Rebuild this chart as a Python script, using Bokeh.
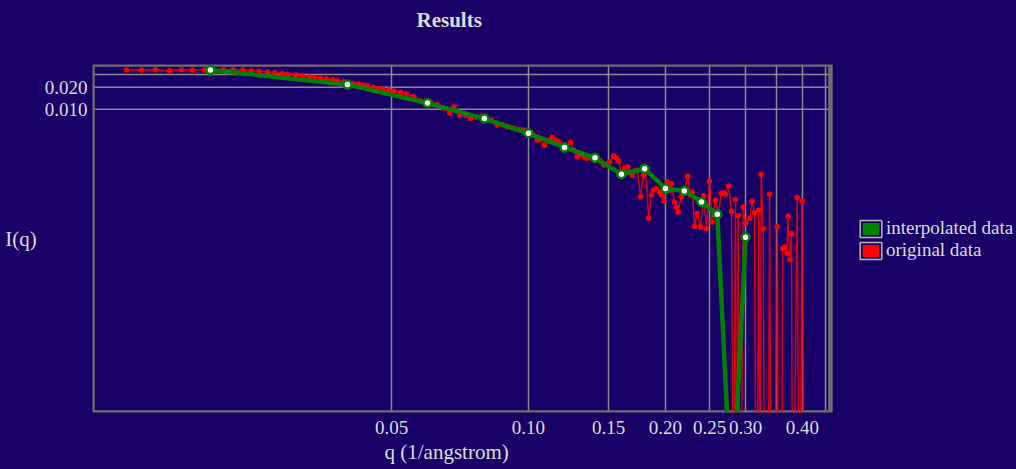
from bokeh.plotting import figure
from bokeh.models import FixedTicker, Legend, LegendItem, Range1d, Title
from bokeh.embed import file_html
from bokeh.resources import INLINE

# ---------------- data ----------------
q_orig = [0.01308, 0.01411, 0.01514, 0.01626, 0.01728, 0.01826, 0.01941, 0.02021,
          0.02136, 0.02244, 0.02356, 0.02458, 0.02559, 0.0267, 0.0277, 0.02872,
          0.02953, 0.03087, 0.03192, 0.03302, 0.03391, 0.03491, 0.03597, 0.03715,
          0.03799, 0.03927, 0.0402, 0.04124, 0.04236, 0.04339, 0.0442, 0.04557,
          0.0468, 0.04794, 0.04932, 0.05058, 0.05233, 0.05395, 0.05597, 0.0579,
          0.05968, 0.06121, 0.0630, 0.06513, 0.06714, 0.06851, 0.07063, 0.0727,
          0.07456, 0.07686, 0.07883, 0.08085, 0.08292, 0.08535, 0.08768, 0.08978,
          0.09176, 0.09363, 0.09555, 0.09765, 0.0995, 0.1021, 0.1045, 0.1063,
          0.1084, 0.1107, 0.1127, 0.1147, 0.1166, 0.1188, 0.1212, 0.1237,
          0.1256, 0.1279, 0.1308, 0.1328, 0.1346, 0.1375, 0.1397, 0.1418,
          0.144, 0.1464, 0.1484, 0.1509, 0.1538, 0.1561, 0.1579, 0.1601,
          0.1626, 0.1653, 0.1676, 0.169, 0.171, 0.1734, 0.1763, 0.1789,
          0.1808, 0.1838, 0.1863, 0.1882, 0.1911, 0.1941, 0.1961, 0.1984,
          0.2021, 0.2042, 0.2062, 0.2094, 0.2115, 0.2133, 0.2166, 0.2202,
          0.2239, 0.227, 0.2293, 0.2317, 0.2349, 0.2388, 0.2428, 0.2461,
          0.2499, 0.2533, 0.2576, 0.2616, 0.2652, 0.2683, 0.271, 0.2752,
          0.2794, 0.2822, 0.2851, 0.2872, 0.289, 0.2924, 0.2964, 0.2999,
          0.3064, 0.3101, 0.3138, 0.317, 0.3208, 0.323, 0.3246, 0.3279,
          0.331, 0.336, 0.3387, 0.3421, 0.3473, 0.3521, 0.3551, 0.3597,
          0.3622, 0.3659, 0.3696, 0.3722, 0.3752, 0.3784, 0.3813, 0.3895,
          0.3941, 0.3995, 0.4032]
i_orig = [0.0345, 0.0345, 0.0349, 0.0338, 0.0349, 0.0345, 0.0345, 0.0345,
          0.0351, 0.0349, 0.0345, 0.0338, 0.0332, 0.0324, 0.0317, 0.0309,
          0.0302, 0.0295, 0.0289, 0.0277, 0.0274, 0.0266, 0.0260, 0.0254,
          0.0247, 0.0239, 0.0229, 0.0226, 0.0222, 0.0215, 0.0209, 0.0200,
          0.0194, 0.0188, 0.0184, 0.0178, 0.0170, 0.0162, 0.01488, 0.01311,
          0.01259, 0.01201, 0.01163, 0.01042, 0.0089, 0.01085, 0.00835, 0.00835,
          0.00753, 0.00784, 0.00797, 0.00736, 0.00714, 0.0061, 0.00619, 0.00578,
          0.00563, 0.00541, 0.00529, 0.00521, 0.00481, 0.00452, 0.0038, 0.00392,
          0.00324, 0.00374, 0.00414, 0.0038, 0.0036, 0.00324, 0.00305, 0.00353,
          0.00277, 0.00224, 0.00244, 0.00222, 0.00213, 0.00222, 0.00219, 0.00209,
          0.00196, 0.00173, 0.00178, 0.00192, 0.00231, 0.00215, 0.00196, 0.00133,
          0.00157, 0.00164, 0.00138, 0.00126, 0.00143, 0.00147, 0.000639, 0.00126,
          0.00154, 0.000324, 0.00067, 0.000784, 0.000828, 0.000736, 0.00067, 0.000563,
          0.00102, 0.000784, 0.000969, 0.000537, 0.000459, 0.000396, 0.000639, 0.000736,
          0.00122, 0.00067, 0.000736, 0.000252, 0.000376, 0.000248, 0.00066, 0.000234,
          0.00104, 0.000289, 0.000572, 0.000368, 0.000707, 0.00072, 0.000691, 0.000898,
          0.000405, 1e-9, 0.000585, 1e-9, 0.000353, 1e-9, 0.000463, 0.000274,
          0.000324, 0.000554, 0.000384, 1e-9, 0.000417, 1e-9, 0.00129, 0.000234,
          1e-9, 1e-9, 0.000691, 1e-9, 1e-9, 0.000247, 1e-9, 1e-9,
          0.000125, 0.000131, 0.000107, 0.000345, 0.0000881, 0.0002, 1e-9, 0.000623,
          1e-9, 0.00056, 1e-9]

q_interp = [0.02, 0.04, 0.06, 0.08, 0.10, 0.12, 0.14, 0.16, 0.18, 0.20,
            0.22, 0.24, 0.26, 0.28, 0.30]
i_interp = [0.0345, 0.0219, 0.0122, 0.00748, 0.00473, 0.00302, 0.00217, 0.0013,
            0.00154, 0.000828, 0.000767, 0.000542, 0.000368, 3e-8, 0.000178]

x_ticks = [0.05, 0.1, 0.15, 0.2, 0.25, 0.3, 0.35, 0.4, 0.45]
x_tick_labels = ["0.05", "0.10", "0.15", "0.20", "0.25", "0.30", "", "0.40", ""]
y_ticks = [0.01, 0.02, 0.03]
y_tick_labels = ["0.010", "0.020", ""]

# plot box (axis limits) and the extra canvas room used by the legend
X_LO, X_HI = 0.01101, 0.461
Y_LO, Y_HI = 7.13e-7, 0.0411
X_CANVAS_HI = 1.182

# ---------------- style ----------------
BG = "#190066"
TXT = "#dddddd"
FONT = "Liberation Serif"
BOX = "#6e6e6e"
GRID = "#8a8a8a"

p = figure(width=1016, height=469, x_axis_type="log", y_axis_type="log",
           x_range=Range1d(X_LO, X_CANVAS_HI), y_range=Range1d(Y_LO, Y_HI),
           output_backend="svg", toolbar_location=None, title=None,
           min_border_left=92, min_border_right=0, min_border_top=64,
           min_border_bottom=57)
# transparent canvas on a navy element background (avoids seams at the frame)
p.background_fill_color = None
p.border_fill_color = None
p.styles = {"background-color": BG}
p.outline_line_color = None

# titles: spacer (nearest to the frame) then the visible title
p.add_layout(Title(text=" ", text_font_size="10px", standoff=20,
                   text_color=BG), "above")
p.add_layout(Title(text="Results", align="left", offset=324, standoff=0,
                   text_font=FONT, text_font_size="21px",
                   text_font_style="bold", text_color=TXT), "above")

for ax in (p.xaxis[0], p.yaxis[0]):
    ax.axis_line_color = None
    ax.major_tick_line_color = None
    ax.minor_tick_line_color = None
    ax.major_tick_out = 0
    ax.major_tick_in = 0
    ax.minor_tick_out = 0
    ax.minor_tick_in = 0
    ax.major_label_text_font = FONT
    ax.major_label_text_font_size = "19px"
    ax.major_label_text_color = TXT
    ax.axis_label_text_font = FONT
    ax.axis_label_text_font_size = "21px"
    ax.axis_label_text_font_style = "normal"
    ax.axis_label_text_color = TXT

p.xaxis.major_label_standoff = 8
p.yaxis.major_label_standoff = 5
p.yaxis.axis_label = "I(q)"
p.yaxis.axis_label_orientation = "horizontal"
p.yaxis.axis_label_standoff = 5

p.add_layout(Title(text="q (1/angstrom)", align="left", offset=292, standoff=3,
                   vertical_align="bottom", text_font=FONT,
                   text_font_size="21px", text_font_style="normal",
                   text_color=TXT), "below")

p.xaxis.ticker = FixedTicker(ticks=x_ticks)
p.yaxis.ticker = FixedTicker(ticks=y_ticks)
p.xaxis.major_label_overrides = dict(zip(x_ticks, x_tick_labels))
p.yaxis.major_label_overrides = dict(zip(y_ticks, y_tick_labels))

p.xgrid.grid_line_color = GRID
p.xgrid.grid_line_width = 1.5
p.ygrid.grid_line_color = None
# horizontal grid lines limited to the plot box
p.segment(x0=[X_LO] * len(y_ticks), x1=[X_HI] * len(y_ticks), y0=y_ticks,
          y1=y_ticks, line_color=GRID, line_width=1.5)
# plot box border
p.quad(left=[X_LO], right=[X_HI], bottom=[Y_LO], top=[Y_HI], fill_alpha=0,
       line_color=BOX, line_width=4.5)

# original data
p.line(q_orig, i_orig, line_color="#ff0000", line_width=1.4, line_alpha=0.85)
p.scatter(q_orig, i_orig, size=5, fill_color="#ff0000", line_color="#ff0000",
          line_width=0.6)
# interpolated data
p.line(q_interp, i_interp, line_color="#008000", line_width=4.5)
p.scatter(q_interp, i_interp, size=8, fill_color="white", line_color="#008000",
          line_width=2.5)

# legend swatches (hidden renderers, only used for the legend boxes):
# coloured box with a navy gap, then a thin grey frame around it
def swatch(q, i, color):
    inner = p.quad(left=q, right=q, top=i, bottom=i, fill_color=color,
                   line_color=BG, line_width=5, visible=False)
    frame = p.quad(left=q, right=q, top=i, bottom=i, fill_color=None,
                   line_color="#b4b4b4", line_width=1.5, visible=False)
    return [inner, frame]

legend = Legend(items=[LegendItem(label="interpolated data",
                                  renderers=swatch(q_interp, i_interp, "#008000")),
                       LegendItem(label="original data",
                                  renderers=swatch(q_orig, i_orig, "#ff0000"))],
                location=(765, 151), orientation="vertical",
                background_fill_alpha=0, border_line_color=None,
                inactive_fill_alpha=0,
                padding=0, margin=0, spacing=0,
                glyph_width=27, glyph_height=21, label_standoff=2,
                label_height=18,
                label_text_font=FONT, label_text_font_size="19px",
                label_text_color=TXT)
p.add_layout(legend, "center")

open("out.html", "w").write(file_html(p, INLINE))
